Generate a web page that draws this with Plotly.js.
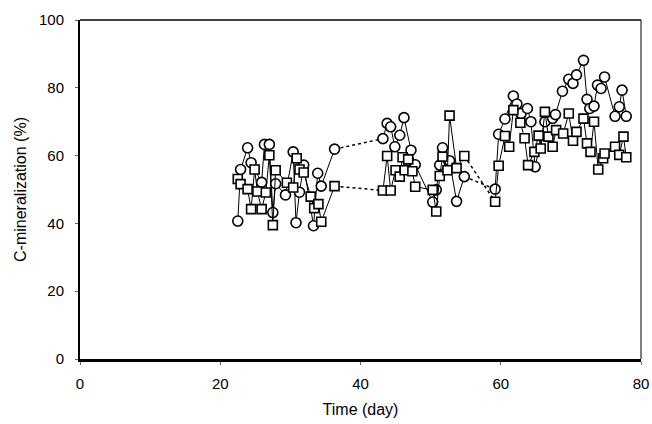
<!DOCTYPE html>
<html><head><meta charset="utf-8">
<script src="https://cdn.plot.ly/plotly-3.0.1.min.js"></script>
<style>html,body{margin:0;padding:0;background:#fff}#chart{width:652px;height:424px}</style>
</head><body><div id="chart"></div>
<script>
// Circle series
const circleDay = [22.5,22.9,23.9,24.4,25.9,26.3,27.0,27.5,27.9,29.3,30.4,30.8,31.3,31.9,33.3,33.9,34.4,36.3,
  43.2,43.8,44.3,44.9,45.6,46.2,47.2,47.8,50.3,50.8,51.3,51.7,52.7,53.7,54.8,
  59.2,59.7,60.6,61.8,62.3,62.9,63.8,64.3,64.9,66.3,67.4,67.8,68.8,69.7,70.3,70.8,71.8,72.3,72.7,73.3,73.8,74.3,74.8,76.3,76.9,77.3,77.9];
const circleVal = [40.7,55.9,62.3,57.9,52.1,63.3,63.3,43.2,51.7,48.4,61.1,40.2,49.2,57.2,39.3,54.8,51.0,61.9,
  65.0,69.5,68.5,62.6,66.0,71.2,61.6,57.3,46.3,49.9,57.2,62.3,58.5,46.5,53.8,
  50.1,66.3,70.8,77.6,75.2,72.4,73.9,70.0,56.7,70.0,71.0,72.1,79.0,82.5,81.3,83.8,88.1,76.6,73.9,74.6,80.8,79.8,83.2,71.6,74.4,79.3,71.6];
// Square series
const squareDay = [22.5,22.9,23.9,24.4,24.9,25.3,25.9,26.5,27.0,27.5,27.9,29.5,30.4,30.9,31.3,31.9,32.9,33.4,34.0,34.4,36.3,
  43.2,43.8,44.3,45.0,45.6,46.0,46.3,46.8,47.4,47.8,50.3,50.8,51.3,51.7,52.4,52.7,53.7,54.8,
  59.2,59.7,60.6,61.2,61.8,62.8,63.4,63.9,64.8,65.4,65.7,66.3,66.8,67.4,67.9,68.9,69.7,70.3,70.8,71.8,72.3,72.8,73.3,73.9,74.6,74.8,76.3,76.9,77.5,77.9];
const squareVal = [53.1,51.6,50.1,44.2,55.9,49.4,44.2,49.1,60.1,39.5,55.7,52.0,50.6,59.2,55.9,55.0,47.9,44.5,45.7,40.5,51.0,
  49.7,59.9,49.7,55.7,53.8,59.5,55.7,58.9,55.4,50.8,49.9,43.5,54.0,59.7,55.7,71.8,56.3,59.9,
  46.4,57.0,65.8,62.6,73.4,69.7,65.1,57.2,61.1,65.9,62.1,72.9,65.6,62.6,67.5,66.5,72.4,64.4,67.0,70.9,63.6,61.1,70.0,55.9,59.2,60.6,62.6,60.2,65.6,59.5];
const xTicks = [0,20,40,60,80];
const yTicks = [0,20,40,60,80,100];
const GAP = 3;

function split(days, vals){
  const sx=[], sy=[], dx=[], dy=[];
  for(let i=0;i<days.length;i++){
    if(i>0 && days[i]-days[i-1]>GAP){
      sx.push(null); sy.push(null);
      dx.push(days[i-1], days[i], null); dy.push(vals[i-1], vals[i], null);
    }
    sx.push(days[i]); sy.push(vals[i]);
  }
  return {sx,sy,dx,dy};
}
const c = split(circleDay, circleVal);
const s = split(squareDay, squareVal);
const lineStyle = {color:'#000', width:1};
const traces = [
  {x:c.dx, y:c.dy, mode:'lines', line:{color:'#000', width:1.5, dash:'dot'}, hoverinfo:'skip'},
  {x:s.dx, y:s.dy, mode:'lines', line:{color:'#000', width:1.5, dash:'dot'}, hoverinfo:'skip'},
  {x:c.sx, y:c.sy, mode:'lines+markers', connectgaps:false, line:lineStyle,
   marker:{symbol:'circle', size:10, color:'#fff', line:{color:'#000', width:1.6}}},
  {x:s.sx, y:s.sy, mode:'lines+markers', connectgaps:false, line:lineStyle,
   marker:{symbol:'square', size:9, color:'#fff', line:{color:'#000', width:1.6}}}
];
const tickFont = {family:'Liberation Sans, Arial, sans-serif', size:15, color:'#000'};
const titleFont = {family:'Liberation Sans, Arial, sans-serif', size:16, color:'#000'};
const layout = {
  width:652, height:424, showlegend:false,
  paper_bgcolor:'#fff', plot_bgcolor:'#fff',
  margin:{l:80, r:11, t:20, b:65},
  font: tickFont,
  xaxis:{range:[0,80], tickvals:xTicks, ticktext:xTicks.map(String), showgrid:false, zeroline:false,
    showline:true, linecolor:'#000', linewidth:2.5, ticks:'outside', ticklen:3, tickcolor:'#666', tickwidth:1,
    ticklabelstandoff:6, tickfont:tickFont,
    title:{text:'Time (day)', font:titleFont, standoff:14}},
  yaxis:{range:[0,100], tickvals:yTicks, ticktext:yTicks.map(String), showgrid:false, zeroline:false,
    showline:true, linecolor:'#000', linewidth:2, ticks:'outside', ticklen:3, tickcolor:'#666', tickwidth:1,
    ticklabelstandoff:8, tickfont:tickFont,
    title:{text:'C-mineralization (%)', font:titleFont, standoff:8}},
  shapes:[
    {type:'line', xref:'paper', yref:'paper', x0:0, x1:1, y0:1, y1:1, line:{color:'#000', width:1.5}},
    {type:'line', xref:'paper', yref:'paper', x0:1, x1:1, y0:0, y1:1, line:{color:'#000', width:1}}
  ]
};
Plotly.newPlot('chart', traces, layout, {staticPlot:true, displayModeBar:false});
</script></body></html>
